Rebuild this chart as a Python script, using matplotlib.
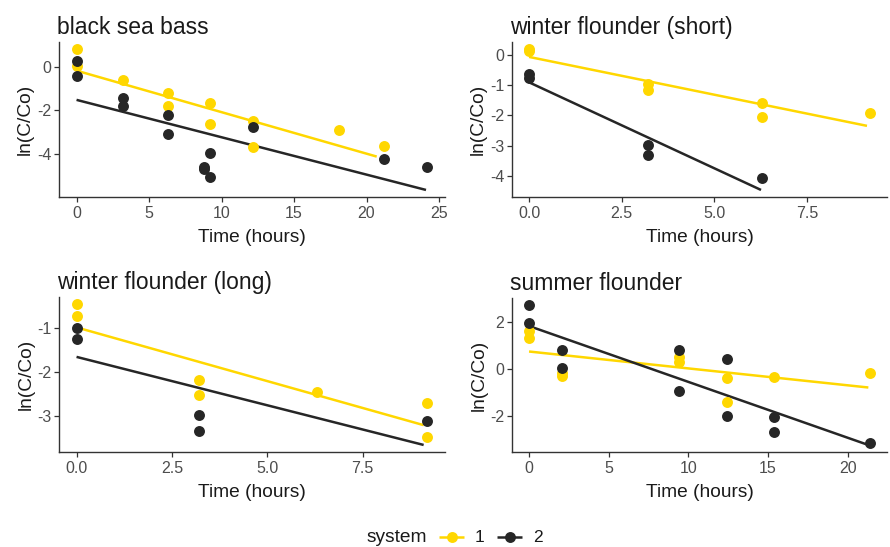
import matplotlib
matplotlib.use("Agg")
import matplotlib.pyplot as plt

plt.rcParams['font.family'] = ['Liberation Sans', 'DejaVu Sans']
plt.rcParams['axes.unicode_minus'] = False

YELLOW = '#FFD700'
BLACK = '#262626'

titles = ["black sea bass", "winter flounder (short)", "winter flounder (long)", "summer flounder"]

# --- black sea bass ---
bsb_x1 = [0, 0, 3.2, 6.3, 6.3, 9.2, 9.2, 12.2, 12.2, 18.1, 21.2]
bsb_y1 = [0.81, 0.05, -0.61, -1.19, -1.80, -1.65, -2.64, -2.47, -3.70, -2.90, -3.63]
bsb_x2 = [0, 0, 3.2, 3.2, 6.3, 6.3, 8.8, 8.8, 9.2, 9.2, 12.2, 21.2, 24.2]
bsb_y2 = [0.27, -0.44, -1.42, -1.80, -2.20, -3.10, -4.58, -4.70, -3.94, -5.05, -2.75, -4.23, -4.58]
bsb_fit_x1 = [0, 20.7]
bsb_fit_y1 = [-0.18, -4.12]
bsb_fit_x2 = [0, 24.1]
bsb_fit_y2 = [-1.52, -5.65]

# --- winter flounder (short) ---
wfs_x1 = [0, 0, 3.2, 3.2, 6.3, 6.3, 9.2]
wfs_y1 = [0.19, 0.11, -0.95, -1.17, -1.58, -2.05, -1.93]
wfs_x2 = [0, 0, 3.2, 3.2, 6.3]
wfs_y2 = [-0.64, -0.77, -2.98, -3.31, -4.07]
wfs_fit_x1 = [0, 9.12]
wfs_fit_y1 = [-0.07, -2.35]
wfs_fit_x2 = [0, 6.26]
wfs_fit_y2 = [-0.91, -4.47]

# --- winter flounder (long) ---
wfl_x1 = [0, 0, 3.2, 3.2, 6.3, 9.2, 9.2]
wfl_y1 = [-0.45, -0.73, -2.18, -2.51, -2.44, -2.70, -3.46]
wfl_x2 = [0, 0, 3.2, 3.2, 9.2]
wfl_y2 = [-1.00, -1.25, -2.98, -3.34, -3.10]
wfl_fit_x1 = [0, 9.1]
wfl_fit_y1 = [-0.98, -3.20]
wfl_fit_x2 = [0, 9.1]
wfl_fit_y2 = [-1.65, -3.65]

# --- summer flounder ---
sf_x1 = [0, 0, 2.1, 2.1, 9.4, 9.4, 12.4, 12.4, 15.4, 21.4]
sf_y1 = [1.61, 1.32, -0.30, -0.20, 0.50, 0.28, -0.41, -1.42, -0.34, -0.17]
sf_x2 = [0, 0, 2.1, 2.1, 9.4, 9.4, 12.4, 12.4, 15.4, 15.4, 21.4]
sf_y2 = [2.73, 1.97, 0.79, 0.05, 0.82, -0.96, 0.43, -2.04, -2.07, -2.72, -3.16]
sf_fit_x1 = [0, 21.3]
sf_fit_y1 = [0.74, -0.80]
sf_fit_x2 = [0, 21.3]
sf_fit_y2 = [1.83, -3.26]

legend_title = "system"
legend_labels = ["1", "2"]

panels = [
    (bsb_x1, bsb_y1, bsb_x2, bsb_y2, bsb_fit_x1, bsb_fit_y1, bsb_fit_x2, bsb_fit_y2, [0, 5, 10, 15, 20, 25], [0, -2, -4], None),
    (wfs_x1, wfs_y1, wfs_x2, wfs_y2, wfs_fit_x1, wfs_fit_y1, wfs_fit_x2, wfs_fit_y2, [0, 2.5, 5.0, 7.5], [0, -1, -2, -3, -4], "{:.1f}"),
    (wfl_x1, wfl_y1, wfl_x2, wfl_y2, wfl_fit_x1, wfl_fit_y1, wfl_fit_x2, wfl_fit_y2, [0, 2.5, 5.0, 7.5], [-1, -2, -3], "{:.1f}"),
    (sf_x1, sf_y1, sf_x2, sf_y2, sf_fit_x1, sf_fit_y1, sf_fit_x2, sf_fit_y2, [0, 5, 10, 15, 20], [2, 0, -2], None),
]

W, H = 890, 547
fig = plt.figure(figsize=(W / 100, H / 100), dpi=100)

# axes boxes in pixels: left, top, right, bottom
boxes = [(59, 42, 445, 197), (512, 42, 887, 197), (59, 297, 445, 452), (512, 298, 887, 452)]

MS = 62
LW = 1.8
for (box, title, p) in zip(boxes, titles, panels):
    l, t, r, b = box
    ax = fig.add_axes([l / W, 1 - b / H, (r - l) / W, (b - t) / H])
    x1, y1, x2, y2, fx1, fy1, fx2, fy2, xt, yt, fmt = p
    ax.plot(fx1, fy1, color=YELLOW, lw=LW, zorder=3, solid_capstyle='butt')
    ax.plot(fx2, fy2, color=BLACK, lw=LW, zorder=3, solid_capstyle='butt')
    ax.scatter(x1, y1, s=MS, color=YELLOW, zorder=4, linewidths=0)
    ax.scatter(x2, y2, s=MS, color=BLACK, zorder=4, linewidths=0)
    ax.margins(0.05)
    ax.set_xticks(xt)
    if fmt:
        ax.set_xticklabels([fmt.format(v) for v in xt])
    ax.set_yticks(yt)
    for s in ['top', 'right']:
        ax.spines[s].set_visible(False)
    for s in ['left', 'bottom']:
        ax.spines[s].set_color('#333333')
        ax.spines[s].set_linewidth(1.0)
    ax.tick_params(axis='both', colors='#333333', labelcolor='#4D4D4D', labelsize=11.5, length=3.5, width=0.9, pad=2)
    ax.tick_params(axis='x', pad=3)
    ax.set_xlabel("Time (hours)", fontsize=13.8, color='#1A1A1A', labelpad=6)
    ax.set_ylabel("ln(C/Co)", fontsize=13.8, color='#1A1A1A', labelpad=2)
    ax.set_title(title, fontsize=16.5, loc='left', color='#1A1A1A', pad=6, x=-0.005)

# legend drawn in an overlay axes in pixel coordinates
lax = fig.add_axes([0, 0, 1, 1])
lax.set_xlim(0, W)
lax.set_ylim(H, 0)
lax.axis('off')
ly = 537
lax.text(367, ly, legend_title, fontsize=13.8, color='#1A1A1A', ha='left', va='center')
for (x0, col, lab) in [(439, YELLOW, legend_labels[0]), (497, BLACK, legend_labels[1])]:
    lax.plot([x0, x0 + 25], [ly, ly], color=col, lw=LW, solid_capstyle='butt')
    lax.scatter([x0 + 12.5], [ly], s=MS, color=col, linewidths=0, zorder=3)
    lax.text(x0 + 36, ly, lab, fontsize=12.5, color='#1A1A1A', ha='left', va='center')

fig.savefig("out.png", dpi=100, facecolor='white')
